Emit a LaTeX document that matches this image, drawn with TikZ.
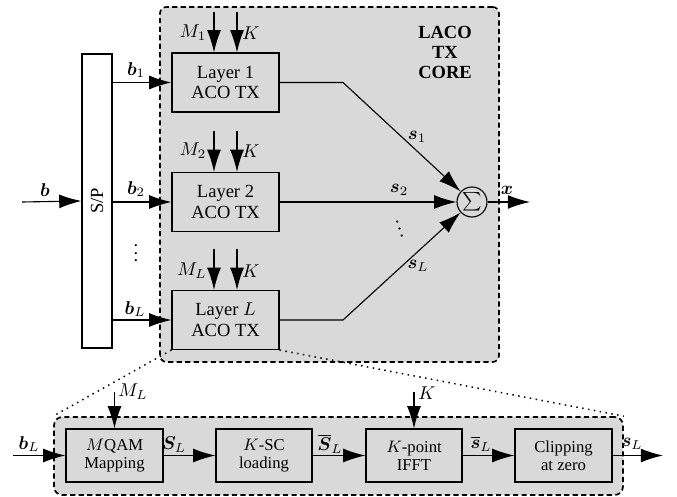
\documentclass[tikz,border=0pt]{standalone}
\usepackage{amsmath}
\usepackage{bm}
\usepackage{fontspec}
\setmainfont{Liberation Serif}
\usetikzlibrary{arrows.meta}
\definecolor{boxgray}{RGB}{217,217,217}
\newcommand{\pxu}{0.54pt}
\begin{document}
\begin{tikzpicture}[x=0.54pt,y=-0.54pt,
  line width=0.6pt,
  arr/.style={-{Latex[length=12pt,width=7.5pt]}},
  container/.style={draw, fill=boxgray, dash pattern=on 2.8pt off 1.8pt, line width=0.9pt, rounded corners=3.5pt, inner sep=0pt},
  blk/.style={draw, fill=boxgray, inner sep=0pt, align=center, font=\fontsize{10}{11.2}\selectfont, minimum width=107*\pxu, minimum height=59*\pxu},
  sblk/.style={draw, fill=boxgray, inner sep=0pt, align=center, font=\fontsize{9}{9.6}\selectfont, minimum width=97*\pxu, minimum height=53*\pxu},
  lbl/.style={inner sep=0pt, font=\fontsize{10}{12}\selectfont},
  dotline/.style={dash pattern=on 0.8pt off 2.4pt, line width=0.8pt}
]
\useasboundingbox (0,0) rectangle (677,497);

% containers
\node[container, minimum width=339*\pxu, minimum height=355*\pxu] (core) at (329.5,184.5) {};
\node[container, minimum width=569*\pxu, minimum height=78*\pxu, rounded corners=4.5pt] (detail) at (338.5,456) {};
\node[font=\bfseries\fontsize{10}{10.8}\selectfont, align=center, inner sep=0pt] (title) at (445,52) {LACO\\TX\\CORE};

% S/P
\node[draw, fill=white, rotate=90, minimum width=294*\pxu, minimum height=30*\pxu, inner sep=0pt, font=\fontsize{10}{12}\selectfont] (sp) at (97,201) {S/P};

% layers
\node[blk] (l1) at (225.5,82.5) {Layer 1\\ACO TX};
\node[blk] (l2) at (225.5,202) {Layer 2\\ACO TX};
\node[blk] (lL) at (225.5,320) {Layer $L$\\ACO TX};

% sum
\node[draw, fill=boxgray, circle, minimum size=30*\pxu, inner sep=0pt, font=\fontsize{10}{12}\selectfont] (sum) at (472,202) {$\sum$};

% input
\coordinate (bin) at (22,202);
\draw[arr] (bin) -- (sp.north);
\node[lbl] (lb) at (45,190) {$\bm{b}$};

% S/P to layers
\draw[arr] (sp.south |- l1.west) -- (l1.west);
\draw[arr] (sp.south |- l2.west) -- (l2.west);
\draw[arr] (sp.south |- lL.west) -- (lL.west);
\node[lbl] (lb1) at (136,70) {$\bm{b}_1$};
\node[lbl] (lb2) at (136,189) {$\bm{b}_2$};
\node[lbl] (lbL) at (135,309) {$\bm{b}_L$};
\node[lbl] (vd1) at (136,248) {$\vdots$};

% M and K inputs
\coordinate (m1) at (214,12);
\coordinate (k1in) at (237,12);
\coordinate (m2) at (214,131);
\coordinate (k2in) at (237,131);
\coordinate (mL) at (214,249);
\coordinate (kLin) at (237,249);
\draw[arr] (m1) -- (m1 |- l1.north);
\draw[arr] (k1in) -- (k1in |- l1.north);
\draw[arr] (m2) -- (m2 |- l2.north);
\draw[arr] (k2in) -- (k2in |- l2.north);
\draw[arr] (mL) -- (mL |- lL.north);
\draw[arr] (kLin) -- (kLin |- lL.north);
\node[lbl] (tm1) at (193,33) {$M_1$};
\node[lbl] (tk1) at (251,33) {$K$};
\node[lbl] (tm2) at (193,151) {$M_2$};
\node[lbl] (tk2) at (251,151) {$K$};
\node[lbl] (tmL) at (192,271) {$M_L$};
\node[lbl] (tkL) at (251,271) {$K$};

% outputs to sum
\coordinate (k1) at (343,82.5);
\coordinate (kL) at (343,320);
\draw[arr] (l1.east) -- (k1) -- (sum);
\draw[arr] (l2.east) -- (sum.west);
\draw[arr] (lL.east) -- (kL) -- (sum);
\node[lbl] (ts1) at (417,137) {$\bm{s}_1$};
\node[lbl] (ts2) at (399,190) {$\bm{s}_2$};
\node[lbl] (tsL) at (418,266) {$\bm{s}_L$};
\node[lbl, rotate=17] (vd2) at (398,224) {$\vdots$};

\coordinate (xout) at (530,202);
\draw[arr] (sum.east) -- (xout);
\node[lbl] (tx) at (507,190) {$\bm{x}$};

% zoom lines
\draw[dotline] (lL.south west) -- (detail.north west);
\draw[dotline] (lL.south east) -- (detail.north east);

% detail blocks
\node[sblk] (map) at (114.5,455.5) {$M$QAM\\Mapping};
\node[sblk, minimum width=96*\pxu] (load) at (264,455.5) {$K$-SC\\loading};
\node[sblk, minimum width=96*\pxu] (ifft) at (414,455.5) {$K$-point\\IFFT};
\node[sblk] (clip) at (563.5,455.5) {Clipping\\at zero};

\coordinate (bLin) at (13,455.5);
\coordinate (sLout) at (663,455.5);
\coordinate (mLin) at (114.5,392);
\coordinate (kin) at (414,392);
\draw[arr] (bLin) -- (map.west);
\draw[arr] (map.east) -- (load.west);
\draw[arr] (load.east) -- (ifft.west);
\draw[arr] (ifft.east) -- (clip.west);
\draw[arr] (clip.east) -- (sLout);
\draw[arr] (mLin) -- (map.north);
\draw[arr] (kin) -- (ifft.north);

\node[lbl] (dbL) at (29,444) {$\bm{b}_L$};
\node[lbl] (dmL) at (133,392) {$M_L$};
\node[lbl] (dSL) at (174,445) {$\bm{S}_L$};
\node[lbl] (dSbL) at (330,444) {$\overline{\bm{S}}_L$};
\node[lbl] (dK) at (427,393) {$K$};
\node[lbl] (dsbL) at (481,444) {$\overline{\bm{s}}_L$};
\node[lbl] (dsL) at (632,444) {$\bm{s}_L$};
\end{tikzpicture}
\end{document}
